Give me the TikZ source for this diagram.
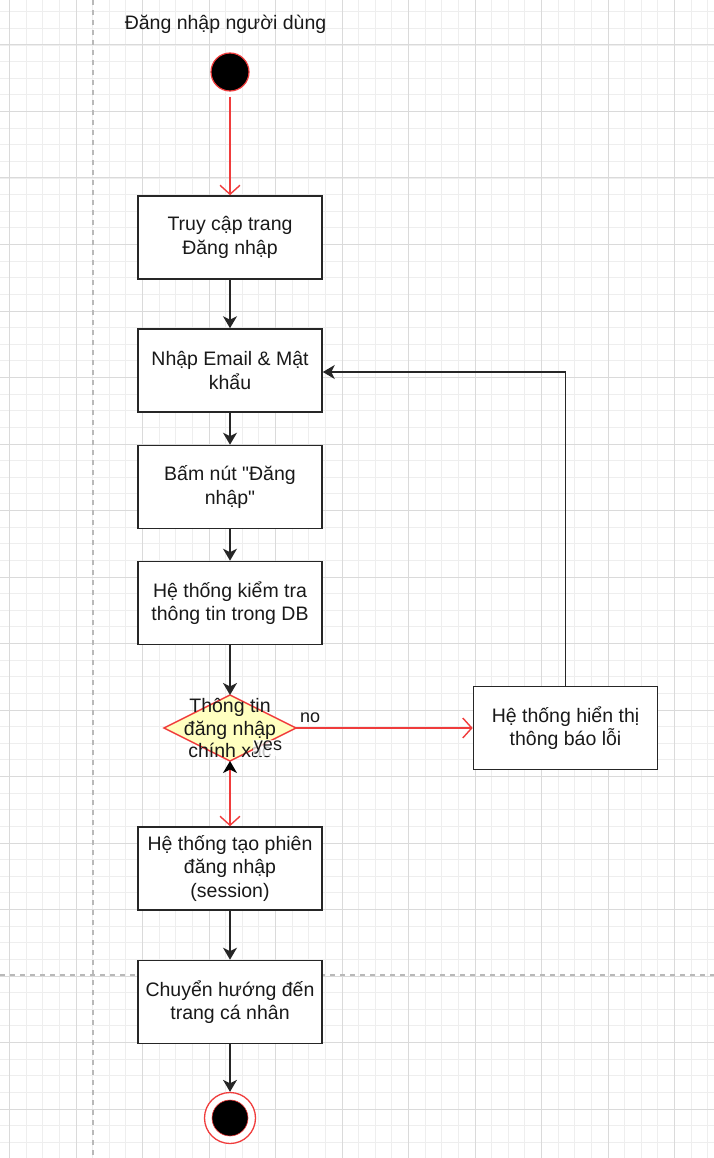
\documentclass[tikz,border=0pt]{standalone}
\usepackage{fontspec}
\setmainfont{Liberation Sans}[Ligatures=TeXOff]
\usetikzlibrary{arrows.meta,shapes.geometric}
\definecolor{lred}{RGB}{240,60,60}
\definecolor{dfill}{RGB}{255,255,192}
\definecolor{minorg}{RGB}{238,238,238}
\definecolor{majorg}{RGB}{218,218,218}
\definecolor{dashg}{RGB}{185,185,185}
\tikzset{
  txt/.style={font=\fontsize{19.5}{23.5}\selectfont, align=center, text=black!90},
  actbox/.style={txt, draw=black!85, line width=1.6pt, fill=white, minimum width=184pt, minimum height=83pt, inner sep=0pt},
  blk/.style={draw=black!85, line width=1.6pt, -{Stealth[length=12pt,width=14pt,inset=3.5pt]}},
  redarr/.style={draw=lred, line width=1.4pt, -{Straight Barb[length=9pt,width=20pt,line width=1.4pt]}},
}
\begin{document}
\begin{tikzpicture}[x=1pt,y=-1pt]
\useasboundingbox (0,0) rectangle (714,1158);
\fill[white] (0,0) rectangle (714,1158);
% grid
\foreach \i in {0,...,43} {
  \draw[minorg, line width=0.8pt] ({9.5+16.625*(\i-1)},0) -- ++(0,1158);
}
\foreach \i in {0,...,70} {
  \draw[minorg, line width=0.8pt] (0,{11.75+16.625*(\i-1)}) -- ++(714,0);
}
\foreach \i in {0,...,11} {
  \draw[majorg, line width=1pt] ({9.5+66.5*\i},0) -- ++(0,1158);
}
\foreach \i in {-1,...,17} {
  \draw[majorg, line width=1pt] (0,{45+66.5*\i}) -- ++(714,0);
}
\draw[dashg, line width=1.3pt, dash pattern=on 5pt off 5pt] (93,0) -- (93,1158);
\draw[dashg, line width=1.3pt, dash pattern=on 5pt off 5pt] (0,975) -- (714,975);

% title
\node[txt] (title) at (225.5,24) {Đăng nhập người dùng};

% start
\node[circle, fill=black, draw=lred, line width=1.2pt, minimum size=38pt, inner sep=0pt] (start) at (230,72) {};

% activity boxes
\node[actbox] (b1) at (230,237.5) {Truy cập trang\\Đăng nhập};
\node[actbox] (b2) at (230,370.5) {Nhập Email \& Mật\\khẩu};
\node[actbox] (b3) at (230,487) {Bấm nút "Đăng\\nhập"};
\node[actbox] (b4) at (230,603) {Hệ thống kiểm tra\\thông tin trong DB};
\node[diamond, draw=lred, fill=dfill, line width=1.4pt, minimum width=132pt, minimum height=66pt, inner sep=0pt, outer sep=0pt] (d) at (230,728) {};
\node[txt, font=\fontsize{19.5}{22.5}\selectfont] (dt) at (230,728) {Thông tin\\đăng nhập\\chính xác};
\node[actbox] (err) at (565.5,728) {Hệ thống hiển thị\\thông báo lỗi};
\node[actbox] (b5) at (230,868.5) {Hệ thống tạo phiên\\đăng nhập\\(session)};
\node[actbox] (b6) at (230,1002) {Chuyển hướng đến\\trang cá nhân};

% end
\node[circle, fill=white, draw=lred, line width=1.3pt, minimum size=51pt, inner sep=0pt] (endo) at (230,1118) {};
\node[circle, fill=black, draw=lred, line width=0.6pt, minimum size=36pt, inner sep=0pt] (endi) at (230,1118) {};

% connectors
\draw[redarr] ([yshift=-5pt]start.south) -- (b1.north);
\draw[blk] (b1) -- (b2);
\draw[blk] (b2) -- (b3);
\draw[blk] (b3) -- (b4);
\draw[blk] (b4) -- (d.north);
\draw[redarr] (d.east) -- node[pos=0.08, above, txt, font=\fontsize{18}{20}\selectfont, yshift=1pt] (no) {no} (err.west);
\coordinate (corner) at (err.north |- 0,372);
\draw[blk] (err.north) -- (corner) -- (b2.east |- corner);
\draw[draw=lred, line width=1.4pt, {Stealth[black,length=12pt,width=14pt,inset=3.5pt]}-{Straight Barb[length=9pt,width=20pt,line width=1.4pt]}] (d.south) -- (b5.north);
\node[txt, font=\fontsize{18}{20}\selectfont, fill=white, fill opacity=0.75, text opacity=1, inner sep=1pt] (yes) at (268,748) {yes};
\draw[blk] (b5) -- (b6);
\draw[blk] (b6) -- (endo.north);
\end{tikzpicture}
\end{document}
